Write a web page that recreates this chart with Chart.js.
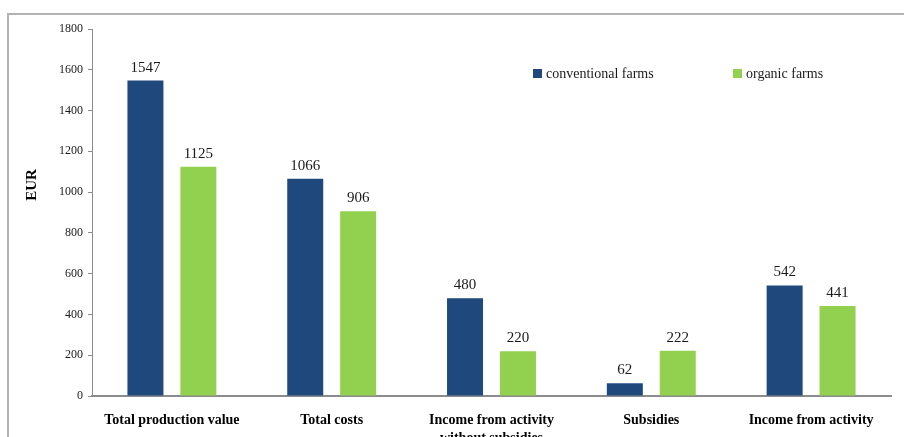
<!DOCTYPE html>
<html>
<head>
<meta charset="utf-8">
<script src="https://cdn.jsdelivr.net/npm/chart.js@4.4.1/dist/chart.umd.min.js"></script>
<style>
    html, body { margin: 0; padding: 0; background: #ffffff; }
    #wrap { width: 904px; height: 437px; position: relative; }
</style>
</head>
<body>
<div id="wrap"><canvas id="farmChart" width="904" height="437"></canvas></div>
<script>
const categories = [
    'Total production value',
    'Total costs',
    ['Income from activity', 'without subsidies'],
    'Subsidies',
    'Income from activity'
];
const conventionalFarms = [1547, 1066, 480, 62, 542];
const organicFarms = [1125, 906, 220, 222, 441];
const yTicks = [0, 200, 400, 600, 800, 1000, 1200, 1400, 1600, 1800];
const yTitle = 'EUR';

const serif = "'Liberation Serif', 'Times New Roman', serif";

// grey frame round the whole chart (open on right and bottom, as in the source)
const framePlugin = {
    id: 'frame',
    beforeDraw(chart) {
        const ctx = chart.ctx;
        ctx.save();
        ctx.strokeStyle = '#b3b3b3';
        ctx.lineWidth = 2;
        ctx.strokeRect(8, 14, 1000, 1000);
        ctx.restore();
    }
};

// value above each bar
const valueLabels = {
    id: 'valueLabels',
    afterDatasetsDraw(chart) {
        const ctx = chart.ctx;
        ctx.save();
        ctx.font = '15px ' + serif;
        ctx.fillStyle = '#1a1a1a';
        ctx.textAlign = 'center';
        ctx.textBaseline = 'alphabetic';
        chart.data.datasets.forEach((ds, i) => {
            chart.getDatasetMeta(i).data.forEach((bar, j) => {
                ctx.fillText(ds.data[j], bar.x, bar.y - 9);
            });
        });
        ctx.restore();
    }
};

// legend drawn inside the plot area, top right, plus the y title
const innerLegend = {
    id: 'innerLegend',
    afterDraw(chart) {
        const ctx = chart.ctx;
        const startX = [533, 733];
        const y = 74;
        ctx.save();
        ctx.font = '14px ' + serif;
        ctx.textBaseline = 'middle';
        ctx.textAlign = 'left';
        chart.data.datasets.forEach((ds, i) => {
            ctx.fillStyle = ds.backgroundColor;
            ctx.fillRect(startX[i], y - 5, 9, 9);
            ctx.fillStyle = '#1a1a1a';
            ctx.fillText(ds.label, startX[i] + 13, y);
        });

        ctx.translate(32, 185);
        ctx.rotate(-Math.PI / 2);
        ctx.textAlign = 'center';
        ctx.fillStyle = '#000000';
        ctx.font = 'bold 15px ' + serif;
        ctx.fillText(yTitle, 0, 0);
        ctx.restore();
    }
};

new Chart(document.getElementById('farmChart'), {
    type: 'bar',
    data: {
        labels: categories,
        datasets: [
            {
                label: 'conventional farms',
                data: conventionalFarms,
                backgroundColor: '#1f497d',
                categoryPercentage: 0.6625,
                barPercentage: 0.68
            },
            {
                label: 'organic farms',
                data: organicFarms,
                backgroundColor: '#92d050',
                categoryPercentage: 0.6625,
                barPercentage: 0.68
            }
        ]
    },
    options: {
        responsive: false,
        animation: false,
        layout: {
            padding: { top: 29, right: 13, left: 0, bottom: 0 }
        },
        plugins: {
            legend: { display: false },
            tooltip: { enabled: false }
        },
        scales: {
            x: {
                grid: { display: false },
                border: { color: '#8c8c8c', width: 2 },
                ticks: {
                    color: '#000000',
                    padding: 7,
                    maxRotation: 0,
                    autoSkip: false,
                    font: { family: serif, size: 14, weight: 'bold', lineHeight: 1.3 }
                },
                afterFit(scale) {
                    scale.height = 41;
                }
            },
            y: {
                min: 0,
                max: 1800,
                afterBuildTicks(scale) {
                    scale.ticks = yTicks.map(v => ({ value: v }));
                },
                grid: {
                    drawOnChartArea: false,
                    drawTicks: true,
                    tickLength: 4,
                    color: '#8c8c8c'
                },
                border: { color: '#8c8c8c', width: 1 },
                ticks: {
                    color: '#1a1a1a',
                    padding: 5,
                    font: { family: serif, size: 12 },
                    callback: value => String(value)
                },
                afterFit(scale) {
                    scale.width = 92;
                }
            }
        }
    },
    plugins: [framePlugin, valueLabels, innerLegend]
});
</script>
</body>
</html>
